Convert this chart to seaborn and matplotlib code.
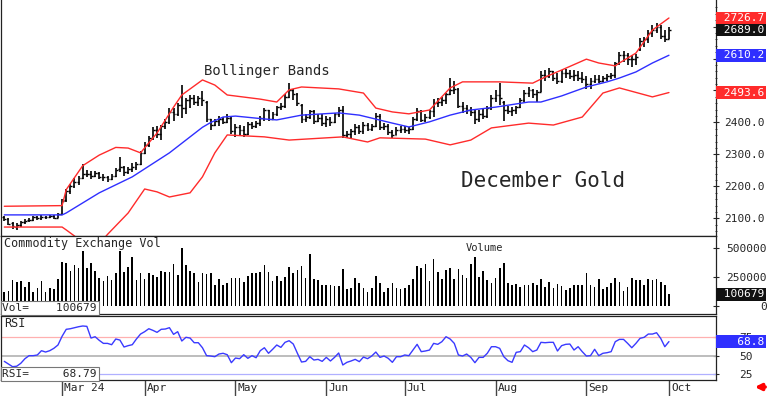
import matplotlib
matplotlib.use("Agg")
import matplotlib.pyplot as plt
import numpy as np
import pandas as pd
import seaborn as sns
from matplotlib.transforms import blended_transform_factory

# trading days on the chart, Feb 9 - Oct 1 2024, exchange holidays taken out
holidays = ['2024-02-19', '2024-03-29', '2024-05-27', '2024-06-19', '2024-07-04', '2024-09-02']
dates = pd.bdate_range('2024-02-09', '2024-10-01')
dates = dates[~dates.isin(pd.to_datetime(holidays))]
month_labels = ['Mar 24', 'Apr', 'May', 'Jun', 'Jul', 'Aug', 'Sep', 'Oct']

opens = [2105, 2097, 2085, 2074, 2080, 2088, 2094, 2096, 2103, 2100, 2105, 2104, 2107, 2102,
         2115, 2158, 2186, 2200, 2215, 2226, 2240, 2238, 2232, 2242, 2230, 2228, 2222, 2232, 2255, 2262, 2245, 2255, 2262, 2270,
         2305, 2330, 2350, 2378, 2365, 2388, 2400, 2432, 2425, 2455, 2445, 2470, 2478, 2465, 2475, 2465, 2410, 2392, 2405, 2410, 2402, 2415,
         2372, 2385, 2375, 2365, 2395, 2390, 2398, 2415, 2438, 2412, 2428, 2448, 2450, 2480, 2500, 2490, 2455, 2410, 2418, 2435, 2405, 2415,
         2398, 2412, 2400, 2425, 2440, 2360, 2365, 2372, 2385, 2372, 2392, 2380, 2390, 2420, 2385, 2390, 2370, 2362, 2378,
         2380, 2375, 2380, 2410, 2435, 2408, 2418, 2435, 2462, 2465, 2470, 2488, 2500, 2505, 2452, 2445, 2440, 2432, 2410, 2425, 2420, 2445,
         2478, 2485, 2465, 2440, 2435, 2440, 2448, 2470, 2492, 2500, 2490, 2495, 2550, 2545, 2560, 2540, 2530, 2555, 2555, 2545, 2548, 2540,
         2535, 2520, 2530, 2535, 2530, 2540, 2545, 2550, 2585, 2610, 2612, 2598, 2600, 2630, 2655, 2660, 2680, 2690, 2700, 2670, 2660]
highs = [2108, 2102, 2090, 2085, 2092, 2098, 2100, 2106, 2108, 2110, 2109, 2112, 2110, 2118,
         2160, 2192, 2208, 2225, 2232, 2270, 2252, 2248, 2248, 2246, 2238, 2234, 2238, 2258, 2292, 2265, 2262, 2272, 2275, 2312,
         2340, 2358, 2385, 2390, 2392, 2410, 2445, 2445, 2462, 2518, 2478, 2486, 2485, 2482, 2498, 2468, 2412, 2410, 2420, 2418, 2425, 2418,
         2395, 2392, 2390, 2400, 2402, 2405, 2420, 2445, 2440, 2432, 2452, 2462, 2490, 2525, 2505, 2492, 2458, 2425, 2440, 2438, 2428, 2425,
         2420, 2418, 2430, 2448, 2450, 2372, 2380, 2395, 2392, 2400, 2398, 2395, 2430, 2425, 2398, 2395, 2378, 2385, 2390,
         2388, 2385, 2418, 2445, 2438, 2425, 2440, 2472, 2478, 2480, 2492, 2538, 2530, 2508, 2465, 2455, 2448, 2440, 2440, 2445, 2450, 2485,
         2500, 2522, 2468, 2450, 2448, 2452, 2478, 2500, 2510, 2505, 2500, 2560, 2565, 2570, 2562, 2555, 2565, 2568, 2565, 2563, 2560, 2558,
         2545, 2540, 2550, 2548, 2545, 2552, 2555, 2590, 2620, 2625, 2618, 2612, 2615, 2665, 2668, 2690, 2705, 2712, 2705, 2690, 2700]
lows = [2092, 2078, 2068, 2065, 2072, 2082, 2088, 2092, 2095, 2096, 2098, 2100, 2098, 2100,
        2112, 2150, 2175, 2195, 2205, 2222, 2228, 2222, 2228, 2222, 2218, 2215, 2220, 2228, 2245, 2232, 2238, 2245, 2252, 2268,
        2300, 2322, 2345, 2350, 2345, 2380, 2395, 2405, 2420, 2413, 2425, 2445, 2455, 2450, 2450, 2402, 2375, 2388, 2390, 2395, 2398, 2365,
        2355, 2362, 2355, 2362, 2380, 2382, 2390, 2405, 2405, 2408, 2420, 2438, 2445, 2478, 2470, 2450, 2398, 2400, 2412, 2395, 2400, 2390,
        2385, 2388, 2398, 2418, 2352, 2350, 2352, 2362, 2365, 2365, 2372, 2372, 2385, 2378, 2375, 2360, 2352, 2360, 2368,
        2368, 2365, 2375, 2405, 2400, 2402, 2412, 2418, 2448, 2452, 2458, 2485, 2490, 2445, 2430, 2425, 2420, 2395, 2400, 2410, 2415, 2440,
        2465, 2455, 2405, 2425, 2420, 2425, 2445, 2465, 2480, 2475, 2465, 2495, 2530, 2540, 2530, 2520, 2525, 2540, 2535, 2530, 2530, 2525,
        2505, 2505, 2525, 2522, 2528, 2530, 2535, 2540, 2580, 2590, 2580, 2575, 2580, 2625, 2635, 2650, 2668, 2680, 2660, 2652, 2660]
closes = [2097, 2083, 2075, 2080, 2088, 2093, 2096, 2103, 2100, 2105, 2104, 2107, 2102, 2114,
          2155, 2185, 2200, 2215, 2225, 2240, 2238, 2232, 2242, 2230, 2228, 2222, 2232, 2252, 2262, 2245, 2255, 2262, 2270, 2305,
          2330, 2350, 2378, 2365, 2388, 2400, 2432, 2425, 2455, 2445, 2470, 2478, 2465, 2475, 2470, 2410, 2392, 2405, 2410, 2402, 2415, 2372,
          2385, 2375, 2365, 2395, 2390, 2398, 2415, 2438, 2412, 2428, 2448, 2450, 2480, 2500, 2490, 2462, 2410, 2418, 2435, 2405, 2415, 2398,
          2412, 2400, 2425, 2440, 2360, 2365, 2372, 2385, 2372, 2392, 2380, 2390, 2420, 2385, 2390, 2370, 2362, 2378, 2380,
          2375, 2380, 2410, 2435, 2408, 2418, 2435, 2462, 2465, 2470, 2488, 2500, 2505, 2452, 2445, 2440, 2432, 2410, 2425, 2420, 2445, 2478,
          2485, 2475, 2440, 2435, 2440, 2448, 2470, 2492, 2500, 2490, 2495, 2550, 2545, 2560, 2540, 2530, 2555, 2555, 2545, 2548, 2540, 2535,
          2520, 2530, 2535, 2530, 2540, 2545, 2550, 2585, 2610, 2612, 2598, 2600, 2605, 2655, 2660, 2680, 2690, 2700, 2670, 2660, 2689.0]

upper_idx = [0, 14, 15, 19, 23, 27, 30, 33, 37, 41, 43, 48, 51, 54, 62, 66, 69, 72, 81, 87, 90, 94, 98, 103,
             108, 111, 120, 128, 131, 135, 141, 144, 148, 149, 153, 157, 161]
upper_val = [2138, 2140, 2190, 2265, 2298, 2322, 2320, 2305, 2367, 2448, 2486, 2533, 2517, 2486, 2473, 2464, 2502, 2511,
             2505, 2492, 2445, 2433, 2427, 2439, 2508, 2527, 2527, 2523, 2542, 2564, 2598, 2586, 2577, 2586, 2617, 2689, 2726.7]
mid_idx = [0, 14, 15, 23, 31, 40, 48, 50, 53, 56, 63, 66, 72, 81, 86, 94, 98, 103, 108, 113, 119, 127, 130, 135,
           141, 146, 149, 153, 157, 161]
mid_val = [2111, 2111, 2117, 2180, 2230, 2305, 2385, 2400, 2417, 2420, 2411, 2408, 2423, 2430, 2423, 2398, 2386, 2402,
           2423, 2439, 2448, 2464, 2464, 2483, 2511, 2527, 2539, 2558, 2586, 2610.2]
lower_idx = [0, 14, 15, 17, 20, 23, 25, 30, 34, 37, 40, 45, 48, 51, 54, 63, 69, 82, 88, 91, 102, 108, 113, 118,
             127, 133, 140, 145, 149, 157, 161]
lower_val = [2073, 2073, 2064, 2045, 2010, 2020, 2050, 2117, 2192, 2183, 2167, 2180, 2230, 2305, 2361, 2355, 2345, 2355,
             2339, 2352, 2348, 2330, 2345, 2383, 2398, 2392, 2417, 2492, 2508, 2480, 2493.6]

volume = [123000, 129000, 224000, 210000, 215000, 166000, 210000, 118000, 152000, 215000, 123000, 152000, 144000, 233000,
          382000, 373000, 302000, 353000, 325000, 477000, 325000, 373000, 302000, 238000, 218000, 261000, 224000, 287000,
          477000, 296000, 333000, 425000, 224000, 287000,
          230000, 281000, 267000, 247000, 302000, 296000, 296000, 362000, 267000, 503000, 353000, 302000, 287000, 210000,
          281000, 276000, 281000, 181000, 230000, 181000, 201000, 244000,
          238000, 244000, 210000, 258000, 281000, 287000, 296000, 353000, 296000, 215000, 261000, 215000, 253000, 333000,
          287000, 310000, 345000, 238000, 448000, 230000, 224000, 181000,
          181000, 181000, 175000, 175000, 316000, 147000, 152000, 244000, 195000, 158000, 123000, 158000, 261000, 201000,
          123000, 152000, 201000, 152000, 144000, 152000, 181000, 233000, 348000, 330000,
          359000, 218000, 402000, 296000, 230000, 310000, 325000, 233000, 316000, 267000,
          238000, 362000, 419000, 253000, 302000, 224000, 195000, 238000, 330000, 368000,
          195000, 181000, 189000, 166000, 181000, 181000, 195000, 181000, 233000, 166000,
          210000, 152000, 186000, 172000, 138000, 152000, 181000, 181000, 181000, 281000,
          181000, 166000, 233000, 144000, 166000, 201000, 244000, 210000, 129000, 166000,
          244000, 224000, 224000, 181000, 233000, 224000, 233000, 210000, 181000, 100679]

rsi = [42.1, 38.5, 34.9, 35.5, 39.5, 45.7, 49.8, 49.8, 50.7, 56.5, 54.7, 56.5, 59.7, 64.2,
       76.0, 85.4, 86.2, 87.6, 88.9, 89.9, 89.4, 73.6, 75.4, 70.5, 66.4, 66.4, 64.6, 72.3, 70.9, 61.5, 63.3, 64.6, 72.3, 79.0,
       82.2, 86.2, 84.0, 81.3, 85.4, 85.8, 87.6, 78.6, 82.2, 69.6, 74.6, 73.6, 67.3, 67.3, 60.5, 49.8, 49.3, 48.4, 52.0, 53.0, 51.1, 40.3,
       46.6, 45.7, 51.1, 46.2, 49.8, 47.0, 56.5, 60.5, 53.0, 58.4, 64.2, 61.0, 67.8, 70.0, 65.5, 53.0, 41.2, 42.1, 48.4, 43.9, 44.8, 42.1,
       47.5, 42.6, 47.5, 53.4, 37.2, 40.8, 42.6, 44.8, 41.7, 47.9, 45.7, 49.3, 54.7, 47.5,
       49.3, 46.2, 40.8, 48.4, 48.4, 50.7, 49.8, 57.4, 65.1, 55.2, 56.1, 57.4, 66.4, 65.1, 68.7, 75.4, 72.3, 66.4, 50.7, 49.3,
       52.0, 47.5, 40.3, 47.5, 47.5, 53.0, 61.9, 61.9, 59.7, 48.4, 43.0, 40.8, 54.3, 55.2, 64.2, 60.5, 55.2, 57.4, 67.8, 67.3,
       67.8, 67.8, 56.1, 63.3, 65.1, 65.5, 57.4, 61.9, 55.2, 49.3, 49.8, 58.4, 49.8, 53.0, 53.8, 55.2, 68.7, 71.8, 71.8, 66.4,
       60.5, 66.4, 73.2, 74.6, 79.0, 79.0, 80.8, 73.2, 61.9, 68.79]

sns.set_style("white")
plt.rcParams['font.family'] = ['DejaVu Sans Mono']

W, H = 768, 396
fig = plt.figure(figsize=(W / 100, H / 100), dpi=100)


def panel(x0, y0, x1, y1):
    # pixel box (top-left origin) -> axes
    return fig.add_axes([x0 / W, 1 - y1 / H, (x1 - x0) / W, (y1 - y0) / H])


ax1 = panel(1, 0, 716, 236)
ax2 = panel(1, 236, 716, 314)
ax3 = panel(1, 316, 716, 380)

x = np.arange(len(dates))
xlim = (-0.8, 172.4)
RED, BLUE = '#ff2b2b', '#2f2fff'

# ---- price panel
ax1.vlines(x, lows, highs, color='black', lw=1.2)
ax1.hlines(opens, x - 0.45, x, color='black', lw=1)
ax1.hlines(closes, x, x + 0.45, color='black', lw=1)
sns.lineplot(x=upper_idx, y=upper_val, color=RED, lw=1, ax=ax1)
sns.lineplot(x=mid_idx, y=mid_val, color=BLUE, lw=1, ax=ax1)
sns.lineplot(x=lower_idx, y=lower_val, color=RED, lw=1, ax=ax1)
ax1.set_xlim(*xlim)
ax1.set_ylim(2045, 2783)
price_ticks = list(range(2100, 2800, 100))
ax1.set_yticks(price_ticks)
ax1.set_yticks(range(2060, 2780, 20), minor=True)
# 2500-2700 sit under the last-value flags on the right, so they carry no text
ax1.set_yticklabels([f"{v:.1f}" if v < 2500 else '' for v in price_ticks])
ax1.text(0.2835, 0.699, 'Bollinger Bands', transform=ax1.transAxes, fontsize=10, va='center')
ax1.text(0.644, 0.233, 'December Gold', transform=ax1.transAxes, fontsize=15, va='center')
ax1.spines['top'].set_visible(False)

# ---- volume panel
sns.barplot(x=x, y=volume, native_scale=True, width=0.4, color='black', errorbar=None,
            linewidth=0, saturation=1, ax=ax2)
ax2.set_xlim(*xlim)
ax2.set_ylim(-69000, 603000)
ax2.set_yticks([0, 250000, 500000])
ax2.set_yticklabels(['0', '250000', '500000'])
ax2.text(0.004, 0.91, 'Commodity Exchange Vol', transform=ax2.transAxes, fontsize=8.5, va='center')
ax2.text(0.676, 0.846, 'Volume', transform=ax2.transAxes, fontsize=7.5, va='center', ha='center')
ax2.text(0.002, 0.075, f"Vol=    {volume[-1]}", transform=ax2.transAxes, fontsize=8, va='center',
         bbox=dict(boxstyle='square,pad=0.15', fc='white', ec='#777777', lw=0.8))

# ---- RSI panel
ax3.axhline(75, color='#ffb0b0', lw=0.9)
ax3.axhline(50, color='#b8b8b8', lw=1.3)
ax3.axhline(25, color='#b0b0ff', lw=0.9)
sns.lineplot(x=x, y=rsi, color='#3a3aff', lw=1, ax=ax3)
ax3.set_xlim(*xlim)
ax3.set_ylim(16.9, 103.4)
ax3.set_yticks([25, 50, 75])
ax3.text(0.004, 0.89, 'RSI', transform=ax3.transAxes, fontsize=8.5, va='center')
ax3.text(0.002, 0.094, f"RSI=     {rsi[-1]:.2f}", transform=ax3.transAxes, fontsize=8, va='center',
         bbox=dict(boxstyle='square,pad=0.15', fc='white', ec='#777777', lw=0.8))

# month ticks below the RSI panel, label to the right of each tick
month_idx = [i for i in range(1, len(dates)) if dates[i].month != dates[i - 1].month]
ax3.set_xticks(month_idx)
ax3.set_xticklabels([])
ax3.tick_params(axis='x', length=11.5, width=1, color='#444444', direction='out', bottom=True)
xt = blended_transform_factory(ax3.transData, ax3.transAxes)
for i, lab in zip(month_idx, month_labels):
    ax3.text(i + 0.5, -0.13, lab, transform=xt, fontsize=8, va='center', ha='left', clip_on=False)

for ax, pad, ha in [(ax1, 3.8, 'left'), (ax2, 34.5, 'right'), (ax3, 14.5, 'left')]:
    ax.set_xlabel('')
    ax.set_ylabel('')
    ax.yaxis.tick_right()
    ax.tick_params(axis='y', which='major', direction='inout', length=4, width=0.8, pad=pad,
                   labelsize=8, right=True, left=False)
    ax.tick_params(axis='y', which='minor', direction='inout', length=2, width=0.6, right=True, left=False)
    for lab in ax.get_yticklabels():
        lab.set_horizontalalignment(ha)
    for sp in ax.spines.values():
        sp.set_color('#222222')
        sp.set_linewidth(0.9)
for ax in (ax1, ax2):
    ax.tick_params(axis='x', bottom=False, labelbottom=False)


def flag(ax, value, text, color):
    t = blended_transform_factory(ax.transAxes, ax.transData)
    ax.text(1.002, value, text, transform=t, fontsize=8, color='white', va='center', ha='left',
            clip_on=False, zorder=6,
            bbox=dict(boxstyle='square,pad=0.12', fc=color, ec='none'))


flag(ax1, upper_val[-1], f" {upper_val[-1]:.1f}", RED)
flag(ax1, closes[-1], f" {closes[-1]:.1f}", '#111111')
flag(ax1, mid_val[-1], f" {mid_val[-1]:.1f}", BLUE)
flag(ax1, lower_val[-1], f" {lower_val[-1]:.1f}", RED)
flag(ax2, volume[-1], f" {volume[-1]}", '#111111')
flag(ax3, rsi[-1], f"   {rsi[-1]:.1f}", BLUE)

ax3.annotate('', xy=(752, 9), xytext=(768, 9), xycoords='figure pixels', textcoords='figure pixels',
             arrowprops=dict(arrowstyle='-|>', color='red', lw=2.5, mutation_scale=9))

fig.savefig('out.png', dpi=100)
